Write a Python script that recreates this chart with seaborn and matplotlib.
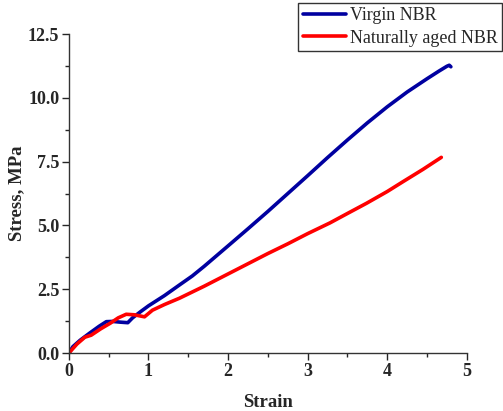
import matplotlib
matplotlib.use("Agg")
import matplotlib.pyplot as plt
import seaborn as sns
import pandas as pd
from matplotlib.ticker import MultipleLocator, FormatStrFormatter

virgin_strain = [0.0, 0.05, 0.14, 0.26, 0.38, 0.47, 0.55, 0.65, 0.74, 0.80, 0.90, 1.00, 1.20, 1.39, 1.55, 1.70, 1.85, 2.00, 2.25, 2.50, 2.75, 3.00, 3.25, 3.50, 3.75, 4.00, 4.25, 4.50, 4.65, 4.75, 4.78, 4.80]
virgin_stress = [0.0, 0.25, 0.50, 0.78, 1.05, 1.23, 1.24, 1.21, 1.19, 1.38, 1.62, 1.85, 2.25, 2.67, 3.02, 3.40, 3.80, 4.20, 4.87, 5.55, 6.25, 6.95, 7.66, 8.35, 9.02, 9.65, 10.23, 10.75, 11.05, 11.24, 11.28, 11.22]

aged_strain = [0.0, 0.10, 0.20, 0.28, 0.40, 0.52, 0.62, 0.72, 0.82, 0.95, 1.05, 1.20, 1.39, 1.70, 2.00, 2.25, 2.50, 2.75, 3.00, 3.28, 3.50, 3.74, 4.00, 4.20, 4.45, 4.68]
aged_stress = [0.0, 0.35, 0.62, 0.70, 0.95, 1.17, 1.38, 1.52, 1.50, 1.42, 1.68, 1.90, 2.15, 2.62, 3.10, 3.50, 3.90, 4.28, 4.68, 5.10, 5.47, 5.87, 6.33, 6.72, 7.20, 7.67]

series_names = ["Virgin NBR", "Naturally aged NBR"]

df = pd.concat([
    pd.DataFrame({"Strain": virgin_strain, "Stress": virgin_stress, "Sample": series_names[0]}),
    pd.DataFrame({"Strain": aged_strain, "Stress": aged_stress, "Sample": series_names[1]}),
], ignore_index=True)

sns.set_style("ticks")
plt.rcParams['font.family'] = ['Liberation Serif', 'DejaVu Serif']

fig = plt.figure(figsize=(5.03, 4.11), dpi=100)
ax = fig.add_axes([0.137, 0.141, 0.791, 0.776])

sns.lineplot(data=df, x="Strain", y="Stress", hue="Sample", sort=False,
             palette={series_names[0]: "#0000A0", series_names[1]: "#FF0000"},
             linewidth=2.6, ax=ax, estimator=None)

ax.set_xlim(0, 5)
ax.set_ylim(0, 12.5)
ax.xaxis.set_major_locator(MultipleLocator(1))
ax.xaxis.set_minor_locator(MultipleLocator(0.5))
ax.yaxis.set_major_locator(MultipleLocator(2.5))
ax.yaxis.set_minor_locator(MultipleLocator(1.25))
ax.yaxis.set_major_formatter(FormatStrFormatter('%.1f'))
ax.xaxis.set_major_formatter(FormatStrFormatter('%d'))
ax.tick_params(which='major', direction='out', length=5, width=1, labelsize=13, pad=2)
ax.tick_params(which='minor', direction='out', length=3, width=1)
for lab in ax.get_xticklabels() + ax.get_yticklabels():
    lab.set_fontweight('bold')
for s in ["top", "right"]:
    ax.spines[s].set_visible(False)
for s in ["left", "bottom"]:
    ax.spines[s].set_color("#333333")
    ax.spines[s].set_linewidth(1)

ax.set_xlabel("Strain", fontsize=13.5, fontweight='bold', labelpad=10)
ax.set_ylabel("Stress, MPa", fontsize=13.5, fontweight='bold', labelpad=2)

handles, labels = ax.get_legend_handles_labels()
leg = fig.legend(handles, labels, loc="upper right", bbox_to_anchor=(0.998, 0.993),
                 fontsize=13, frameon=True, fancybox=False, edgecolor="black",
                 handlelength=2.4, handletextpad=0.2, borderpad=0.25, labelspacing=0.3,
                 borderaxespad=0)
leg.get_frame().set_linewidth(1)
if ax.get_legend():
    ax.get_legend().remove()

fig.savefig("out.png", dpi=100)
